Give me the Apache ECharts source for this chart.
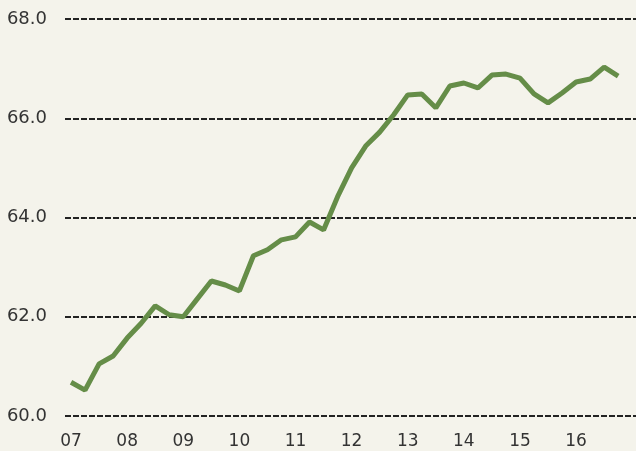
<!DOCTYPE html>
<html>
<head>
<meta charset="utf-8">
<script src="https://cdn.jsdelivr.net/npm/echarts@6/dist/echarts.min.js"></script>
<style>
  html, body { margin: 0; padding: 0; background: #f4f3eb; }
  #chart { width: 636px; height: 451px; }
</style>
</head>
<body>
<div id="chart"></div>
<script>
// Quarterly series, 2007 Q1 through 2016 Q4
const years = ['07', '08', '09', '10', '11', '12', '13', '14', '15', '16'];
const quarterValues = [
  60.68, 60.52, 61.05, 61.21,
  61.57, 61.87, 62.22, 62.04,
  62.00, 62.36, 62.72, 62.64,
  62.52, 63.23, 63.35, 63.55,
  63.61, 63.91, 63.75, 64.42,
  65.00, 65.44, 65.72, 66.07,
  66.47, 66.49, 66.21, 66.65,
  66.71, 66.61, 66.87, 66.89,
  66.81, 66.49, 66.31, 66.51,
  66.73, 66.79, 67.03, 66.85
];
const yTicks = [60, 62, 64, 66, 68];

const seriesData = quarterValues.map((v, i) => [i, v]);
const yearStarts = years.map((_, i) => i * 4);

const chart = echarts.init(document.getElementById('chart'), null, { renderer: 'canvas' });
chart.setOption({
  backgroundColor: '#f4f3eb',
  animation: false,
  grid: { left: 65, right: 0, top: 19, bottom: 35, containLabel: false },
  xAxis: {
    type: 'value',
    min: -0.43,
    max: 40.27,
    axisLine: { show: false },
    axisTick: { show: false },
    splitLine: { show: false },
    axisLabel: {
      customValues: yearStarts,
      formatter: v => years[Math.round(v / 4)] || '',
      color: '#333',
      fontFamily: 'DejaVu Sans',
      fontSize: 17,
      margin: 17
    }
  },
  yAxis: {
    type: 'value',
    min: yTicks[0],
    max: yTicks[yTicks.length - 1],
    interval: 2,
    axisLine: { show: false },
    axisTick: { show: false },
    axisLabel: {
      formatter: v => v.toFixed(1),
      color: '#333',
      fontFamily: 'DejaVu Sans',
      fontSize: 18,
      margin: 18
    },
    splitLine: {
      show: true,
      lineStyle: { color: '#222', width: 2, type: [6, 2] }
    }
  },
  series: [{
    type: 'line',
    data: seriesData,
    showSymbol: false,
    lineStyle: { color: '#658d48', width: 5 },
    z: 3
  }]
});
</script>
</body>
</html>
